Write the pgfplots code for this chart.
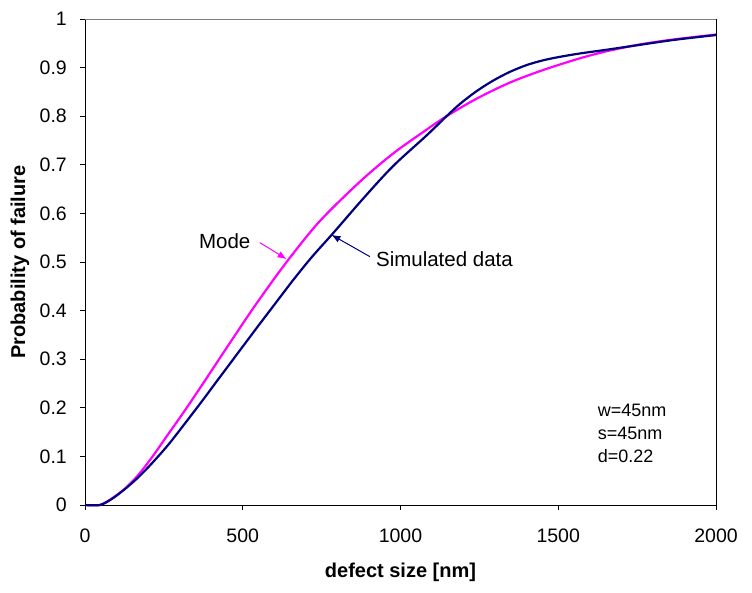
\documentclass[border=0pt]{standalone}
\usepackage{pgfplots}
\pgfplotsset{compat=1.18}
\usepackage{fontspec}
\setmainfont{Liberation Sans}
\usetikzlibrary{arrows.meta}
\definecolor{magentaX}{RGB}{255,0,255}
\definecolor{navyX}{RGB}{0,0,128}
\begin{document}
\begin{tikzpicture}
\useasboundingbox (-85pt,-87pt) rectangle (667pt,505pt);
\begin{axis}[
  at={(0,0)}, anchor=south west,
  scale only axis, width=631pt, height=486pt,
  xmin=0, xmax=2000, ymin=0, ymax=1,
  axis x line*=bottom, axis y line*=left,
  axis line style={-, black, line width=0.8pt},
  xtick={0,500,1000,1500,2000},
  ytick={0,0.1,0.2,0.3,0.4,0.5,0.6,0.7,0.8,0.9,1},
  yticklabels={0,0.1,0.2,0.3,0.4,0.5,0.6,0.7,0.8,0.9,1},
  xticklabels={0,500,1000,1500,2000},
  scaled ticks=false,
  tick align=outside, major tick length=5pt,
  tick style={black, line width=0.8pt},
  ticklabel style={font=\fontsize{19.5}{22}\selectfont},
  yticklabel style={anchor=east, inner sep=0pt, xshift=-13pt},
  xticklabel style={anchor=north, inner sep=0pt, yshift=-19pt},
  xlabel={\bfseries defect size [nm]},
  ylabel={\bfseries Probability of failure},
  label style={font=\fontsize{20}{24}\selectfont},
  xlabel style={at={(axis description cs:0.5,0)}, anchor=center, yshift=-67pt},
  ylabel style={at={(axis description cs:0,0.5)}, anchor=center, yshift=65pt},
  clip=false,
]
\addplot[magentaX, line width=2.2pt, smooth, tension=0.5] coordinates {
(0,0) (47,0) (84,0.013) (127,0.034) (169,0.062) (211,0.097) (264,0.146)
(317,0.195) (370,0.246) (420,0.295) (470,0.344) (544,0.415) (639,0.500)
(744,0.584) (871,0.665) (976,0.723) (1082,0.772) (1146,0.800) (1241,0.836)
(1346,0.869) (1452,0.895) (1568,0.919) (1656,0.934) (1762,0.948)
(1867,0.958) (2000,0.968)
};
\addplot[navyX, line width=2.2pt, smooth, tension=0.5] coordinates {
(0,0) (47,0) (84,0.012) (127,0.033) (169,0.057) (211,0.085) (264,0.124)
(317,0.168) (370,0.213) (417,0.254) (470,0.300) (538,0.359) (600,0.412)
(660,0.463) (720,0.511) (786,0.559) (881,0.630) (976,0.697) (1082,0.760)
(1146,0.800) (1188,0.825) (1240,0.851) (1293,0.873) (1346,0.891)
(1399,0.905) (1452,0.915) (1504,0.922) (1568,0.929) (1656,0.937)
(1750,0.946) (1867,0.957) (2000,0.967)
};
\draw[gray, line width=0.8pt] (rel axis cs:0,1) -- (rel axis cs:1,1);
\draw[black, line width=0.8pt] (rel axis cs:1,0) -- (rel axis cs:1,1);
\draw[magentaX, line width=1pt, -{Latex[length=9pt,width=7pt]}] (axis cs:554,0.540) -- (axis cs:639,0.506);
\draw[navyX, line width=1pt, -{Latex[length=9pt,width=7pt]}] (axis cs:903,0.511) -- (axis cs:781,0.556);
\node[anchor=west, inner sep=0pt, font=\fontsize{20.5}{24}\selectfont] at (axis cs:361,0.543) {Mode};
\node[anchor=west, inner sep=0pt, font=\fontsize{20.5}{24}\selectfont] at (axis cs:922,0.506) {Simulated data};
\node[anchor=base west, inner sep=0pt, font=\fontsize{18}{22}\selectfont] at (axis cs:1625,0.183) {w=45nm};
\node[anchor=base west, inner sep=0pt, font=\fontsize{18}{22}\selectfont] at (axis cs:1625,0.135) {s=45nm};
\node[anchor=base west, inner sep=0pt, font=\fontsize{18}{22}\selectfont] at (axis cs:1625,0.087) {d=0.22};
\end{axis}
\end{tikzpicture}
\end{document}
